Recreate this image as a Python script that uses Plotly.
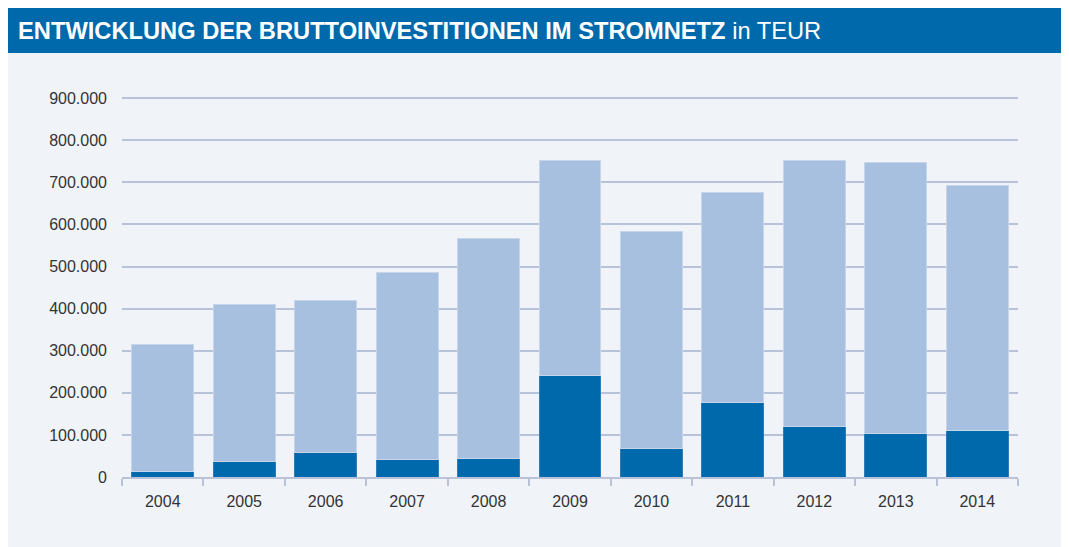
import plotly.graph_objects as go

years = ["2004", "2005", "2006", "2007", "2008", "2009", "2010", "2011", "2012", "2013", "2014"]
totals = [315000, 409000, 420000, 485000, 567000, 751000, 584000, 676000, 751000, 748000, 692000]
dark_part = [12000, 38000, 58000, 42000, 45000, 242000, 68000, 176000, 121000, 104000, 111000]
light_part = [t - d for t, d in zip(totals, dark_part)]
y_ticks = [0, 100000, 200000, 300000, 400000, 500000, 600000, 700000, 800000, 900000]

# page body has an 8px margin; work in reference pixel coords and shift
OFF = 8
W, H = 1069 - OFF, 547 - OFF
L, R, T, B = 122 - OFF, 1018 - OFF, 94 - OFF, 477 - OFF
Y_MAX = 910000

def px(x):
    return (x - OFF - L) / (R - L)

def py(y):
    return (B - (y - OFF)) / (B - T)

DARK = "#0069ab"
LIGHT = "#a8c0df"
GRID = "#b8c3d9"
PANEL = "#f0f4f9"

fig = go.Figure()
fig.add_trace(go.Bar(x=years, y=dark_part, marker=dict(color=DARK, line=dict(color="#2f7cb6", width=1)),
                     hoverinfo="skip"))
fig.add_trace(go.Bar(x=years, y=light_part, marker=dict(color=LIGHT, line=dict(color="#c6d5ea", width=1)),
                     hoverinfo="skip"))

fig.update_layout(
    width=W, height=H,
    margin=dict(l=L, r=W - R, t=T, b=H - B, pad=0),
    barmode="stack", bargap=0.24,
    showlegend=False,
    paper_bgcolor="white",
    plot_bgcolor="rgba(0,0,0,0)",
    separators=",.",
    font=dict(family="Liberation Sans, Arial, sans-serif", color="#333333"),
    shapes=[
        dict(type="rect", xref="paper", yref="paper", x0=px(5), x1=px(1064), y0=py(547), y1=py(53),
             fillcolor=PANEL, line=dict(width=0), layer="below"),
        dict(type="rect", xref="paper", yref="paper", x0=px(5), x1=px(1064), y0=py(53), y1=py(7.5),
             fillcolor=DARK, line=dict(width=0), layer="below"),
    ],
    annotations=[
        dict(xref="paper", yref="paper", x=px(16), y=py(31), xanchor="left", yanchor="middle",
             showarrow=False,
             text="<b>ENTWICKLUNG DER BRUTTOINVESTITIONEN IM STROMNETZ</b> in TEUR",
             font=dict(family="Liberation Sans, Arial, sans-serif", size=23.7, color="white")),
    ],
)

fig.update_yaxes(
    range=[0, Y_MAX], tickvals=y_ticks, tickformat=",d",
    showgrid=True, gridcolor=GRID, gridwidth=2,
    zeroline=False, showline=False, ticks="",
    ticklabelstandoff=14,
    tickfont=dict(size=16, color="#333333"),
)
fig.update_xaxes(
    type="category", showgrid=False, zeroline=False,
    showline=True, linecolor=GRID, linewidth=2,
    ticks="outside", tickson="boundaries", ticklen=7, tickcolor=GRID, tickwidth=2,
    tickfont=dict(size=16, color="#333333"),
    ticklabelstandoff=9,
)

fig.write_html("out.html")
